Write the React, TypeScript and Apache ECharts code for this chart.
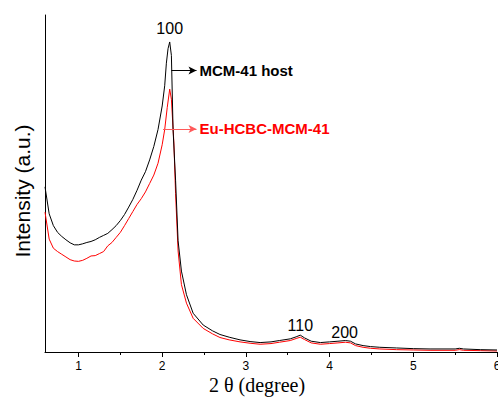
import React, { useEffect, useRef } from "react";
import * as echarts from "echarts";

// 2θ (degree) sample positions and intensities (a.u.)
const hostX = [0.6, 0.65, 0.7, 0.75, 0.8, 0.85, 0.9, 0.95, 1.0, 1.05, 1.1, 1.15, 1.2, 1.25, 1.3, 1.35, 1.4, 1.45, 1.5, 1.55, 1.6, 1.65, 1.7, 1.75, 1.8, 1.85, 1.9, 1.95, 2.0, 2.03, 2.05, 2.07, 2.09, 2.11, 2.13, 2.16, 2.19, 2.23, 2.29, 2.37, 2.49, 2.6, 2.69, 2.8, 2.93, 3.05, 3.17, 3.3, 3.4, 3.53, 3.6, 3.65, 3.7, 3.78, 3.89, 4.0, 4.1, 4.19, 4.25, 4.31, 4.4, 4.49, 4.6, 4.8, 5.0, 5.2, 5.5, 5.55, 5.6, 5.8, 6.0];
const hostY = [49, 41, 37.5, 35.5, 34.3, 33.3, 32.4, 31.8, 31.8, 32.1, 32.5, 32.8, 33.3, 34, 34.6, 35.2, 36.3, 37.5, 39, 40.8, 43, 45.3, 48, 51, 53.5, 57, 61, 66, 73, 79, 85.7, 90, 92, 88, 66, 51, 33, 24, 17, 11.5, 8, 6.3, 5.2, 4.4, 3.6, 3.1, 2.8, 3.0, 3.4, 3.9, 4.5, 5.0, 4.2, 3.2, 2.8, 3.0, 3.2, 3.4, 3.2, 2.4, 1.9, 1.6, 1.4, 1.2, 1.0, 0.9, 0.9, 1.1, 0.9, 0.7, 0.6];

const euX = [0.6, 0.65, 0.7, 0.75, 0.8, 0.85, 0.9, 0.95, 1.0, 1.05, 1.1, 1.15, 1.2, 1.25, 1.3, 1.35, 1.4, 1.45, 1.5, 1.55, 1.6, 1.65, 1.7, 1.75, 1.8, 1.85, 1.9, 1.95, 2.0, 2.03, 2.06, 2.09, 2.11, 2.14, 2.16, 2.19, 2.23, 2.29, 2.37, 2.49, 2.6, 2.69, 2.8, 2.93, 3.05, 3.17, 3.3, 3.4, 3.53, 3.6, 3.65, 3.7, 3.78, 3.89, 4.0, 4.1, 4.19, 4.25, 4.31, 4.4, 4.49, 4.6, 4.8, 5.0, 5.2, 5.5, 5.55, 5.6, 5.8, 6.0];
const euY = [41.5, 33.5, 30.8, 29.8, 29, 28.2, 27.4, 27, 26.9, 27.2, 27.8, 28.5, 28.6, 29.2, 29.8, 31.5, 32.5, 34, 35.5, 37.5, 39.6, 41.7, 43.8, 45.5, 47.5, 50, 52.5, 56, 61.5, 66, 72.5, 78, 75, 62, 47, 30, 20, 14.5, 10, 7, 5.4, 4.3, 3.6, 3.0, 2.6, 2.3, 2.5, 2.9, 3.4, 4.0, 4.4, 3.7, 2.7, 2.3, 2.5, 2.7, 2.9, 2.7, 1.9, 1.4, 1.1, 0.9, 0.7, 0.6, 0.5, 0.5, 0.7, 0.5, 0.4, 0.3];

const majorTicks = [1, 2, 3, 4, 5, 6];
const minorTicks = [1.5, 2.5, 3.5, 4.5, 5.5];

// reflection labels: [2θ, intensity, text]
const peakLabels: [number, number, string][] = [
  [2.09, 96, "100"],
  [3.65, 8, "110"],
  [4.18, 5.8, "200"],
];

const hostArrow = { x0: 2.11, x1: 2.41, y: 83.5, text: "MCM-41 host" };
const euArrow = { x0: 2.01, x1: 2.41, y: 66.2, text: "Eu-HCBC-MCM-41" };

const SANS = "'Liberation Sans', Arial, sans-serif";
const SERIF = "'Liberation Serif', 'Times New Roman', serif";

export default function App() {
  const ref = useRef<HTMLDivElement>(null);
  useEffect(() => {
    if (!ref.current) return;
    const chart = echarts.init(ref.current, null, { renderer: "svg" });
    const zip = (xs: number[], ys: number[]) => xs.map((x, i) => [x, ys[i]]);
    const arrowLine = (a: typeof hostArrow, lineColor: string, textColor: string) => ({
      silent: true,
      symbol: ["none", "arrow"],
      symbolSize: [6, 8],
      lineStyle: { color: lineColor, width: 1, type: "solid" },
      label: {
        show: true,
        position: "end",
        distance: 3,
        formatter: a.text,
        color: textColor,
        fontFamily: SANS,
        fontWeight: "bold",
        fontSize: 15,
      },
      data: [[{ coord: [a.x0, a.y] }, { coord: [a.x1, a.y] }]],
    });
    chart.setOption({
      animation: false,
      backgroundColor: "#fff",
      grid: { left: 45, right: 1, top: 15, bottom: 45, outerBoundsMode: "none", containLabel: false },
      xAxis: [
        {
          type: "value",
          min: 0.6,
          max: 6,
          axisLine: { show: true, lineStyle: { color: "#000", width: 1 } },
          axisTick: { show: true, customValues: majorTicks, length: 5, lineStyle: { color: "#000" } },
          axisLabel: { show: true, customValues: majorTicks, color: "#000", fontSize: 12, fontFamily: SANS, margin: 8 },
          splitLine: { show: false },
        },
        {
          type: "value",
          min: 0.6,
          max: 6,
          position: "bottom",
          axisLine: { show: false },
          axisTick: { show: true, customValues: minorTicks, length: 3, lineStyle: { color: "#000" } },
          axisLabel: { show: false },
          splitLine: { show: false },
        },
      ],
      yAxis: {
        type: "value",
        min: 0,
        max: 100,
        axisLine: { show: true, lineStyle: { color: "#000", width: 1 } },
        axisTick: { show: false },
        axisLabel: { show: false },
        splitLine: { show: false },
      },
      series: [
        {
          name: "MCM-41 host",
          type: "line",
          data: zip(hostX, hostY),
          showSymbol: false,
          symbol: "none",
          lineStyle: { color: "#000", width: 1 },
          itemStyle: { color: "#000" },
          z: 3,
          markLine: arrowLine(hostArrow, "#000", "#000"),
          markPoint: {
            silent: true,
            symbol: "circle",
            symbolSize: 1,
            itemStyle: { color: "rgba(0,0,0,0)" },
            label: { show: true, position: "inside", color: "#000", fontSize: 16, fontFamily: SANS },
            data: peakLabels.map(([x, y, t]) => ({ coord: [x, y], value: t, label: { formatter: t } })),
          },
        },
        {
          name: "Eu-HCBC-MCM-41",
          type: "line",
          data: zip(euX, euY),
          showSymbol: false,
          symbol: "none",
          lineStyle: { color: "#ff0000", width: 1 },
          itemStyle: { color: "#ff0000" },
          z: 2,
          markLine: arrowLine(euArrow, "#ff5a5a", "#ff0000"),
        },
      ],
      graphic: [
        {
          type: "text",
          x: 22,
          y: 191,
          rotation: Math.PI / 2,
          style: {
            text: "Intensity (a.u.)",
            fontSize: 21,
            fontFamily: SANS,
            fill: "#000",
            align: "center",
            verticalAlign: "middle",
          },
        },
        {
          type: "text",
          x: 257,
          y: 385,
          style: {
            text: "2 θ (degree)",
            fontSize: 20,
            fontFamily: SERIF,
            fill: "#000",
            align: "center",
            verticalAlign: "middle",
          },
        },
      ],
    });
    return () => chart.dispose();
  }, []);
  return (
    <div
      ref={ref}
      style={{ position: "fixed", left: 0, top: 0, width: 498, height: 397, background: "#fff" }}
    />
  );
}
